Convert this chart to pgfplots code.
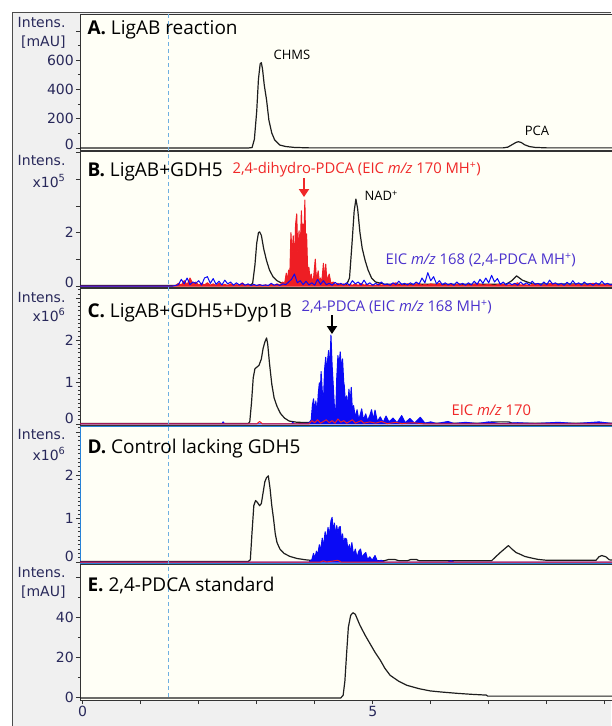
\documentclass[border=0pt]{standalone}
\usepackage{fontspec}
\setmainfont{Open Sans}
\newfontfamily\tickfont{DejaVu Sans}
\usepackage{pgfplots}
\pgfplotsset{compat=1.18}
\usetikzlibrary{arrows.meta}

\definecolor{cream}{RGB}{255,255,246}
\definecolor{margin}{RGB}{240,240,240}
\definecolor{ticktxt}{RGB}{40,40,90}
\definecolor{eicred}{RGB}{238,30,36}
\definecolor{eicblue}{RGB}{10,10,245}
\definecolor{annred}{RGB}{240,40,40}
\definecolor{annblue}{RGB}{75,50,205}
\definecolor{dashcol}{RGB}{110,175,225}
\definecolor{dframe}{RGB}{40,130,215}
\definecolor{trace}{RGB}{30,30,30}

\newcommand\ttl{\fontsize{19}{19}\selectfont}
\newcommand\ann{\fontsize{14.8}{14.8}\selectfont}
\newcommand\lbl{\fontsize{13}{13}\selectfont}
\newcommand\tck{\tickfont\fontsize{14}{14}\selectfont}

\pgfplotsset{
  panel/.style={
    scale only axis, width=534pt, height=136pt,
    xmin=-0.0466, xmax=9.16,
    axis background/.style={fill=cream},
    axis line style={draw=black!80, line width=0.8pt},
    xtick=\empty,
    ytick pos=left, tick align=outside,
    major tick length=4pt, minor tick length=2pt,
    tick style={black!80, line width=0.6pt},
    yticklabel style={font=\tck, text=ticktxt, inner sep=2pt},
    every axis plot/.append style={line join=round, mark=none},
  },
  blk/.style={trace, line width=1.2pt},
  red/.style={eicred, line width=1pt},
  blu/.style={eicblue, line width=1pt},
  redf/.style={eicred, fill=eicred, line width=1pt},
  bluf/.style={eicblue, fill=eicblue, line width=1pt},
}

\begin{document}
\begin{tikzpicture}
\useasboundingbox (0,0) rectangle (611pt,-726pt);
\fill[white] (0,0) rectangle (611pt,-726pt);
\fill[margin] (12pt,-12pt) rectangle (611pt,-726pt);
\draw[black!70, line width=1pt] (12pt,-726pt) -- (12pt,-12pt) -- (611pt,-12pt);

% ---------------- A. LigAB reaction (UV, mAU)
\begin{axis}[panel, at={(80pt,-14pt)}, anchor=north west,
  height=136pt, ymin=-13.65, ymax=914.7,
  ytick={200,400,600,800}, yticklabels={200,400,600,},
  minor ytick={100,300,500,700},
  extra y ticks={0}, extra y tick labels={0},
  extra y tick style={yticklabel style={yshift=4pt}}]
  \addplot[blk] coordinates {
    (-0.05,0) (2.85,0) (2.92,3) (2.96,60) (3.00,250) (3.03,470) (3.06,575)
    (3.08,582) (3.10,540) (3.13,430) (3.17,328) (3.21,190) (3.26,102)
    (3.31,55) (3.40,20) (3.50,10) (3.65,4) (3.90,1) (7.25,1) (7.33,6)
    (7.40,22) (7.47,38) (7.51,43) (7.56,38) (7.62,22) (7.70,10) (7.80,4)
    (8.00,1) (9.20,1)
  };
\end{axis}

% ---------------- B. LigAB+GDH5 (x10^5)
\begin{axis}[panel, at={(80pt,-151pt)}, anchor=north west,
  height=136pt, ymin=-0.037, ymax=5.06,
  ytick={1,2,3,4,5}, yticklabels={,2,,,},
  extra y ticks={0}, extra y tick labels={0},
  extra y tick style={yticklabel style={yshift=4pt}}]
  \addplot[blk] coordinates {
    (-0.05,0.02) (2.88,0.02) (2.93,0.1) (2.97,0.8) (3.00,1.6) (3.03,2.0)
    (3.05,2.03) (3.08,1.9) (3.12,1.4) (3.17,0.95) (3.22,0.6) (3.28,0.35)
    (3.35,0.2) (3.42,0.12) (3.55,0.06) (4.55,0.05) (4.60,0.3) (4.64,1.5)
    (4.68,2.8) (4.71,3.26) (4.74,2.9) (4.78,2.0) (4.82,1.4) (4.87,0.95)
    (4.92,0.6) (4.98,0.3) (5.05,0.15) (5.20,0.07) (7.30,0.07) (7.40,0.2)
    (7.48,0.38) (7.58,0.22) (7.75,0.08) (9.20,0.07)
  };
  \addplot[redf] coordinates {
    (-0.05,0) (1.55,0) (1.60,0.02) (1.65,0.1) (1.70,0.04) (1.75,0.2)
    (1.80,0.05) (1.85,0.3) (1.90,0.08) (1.95,0.15) (2.00,0.03) (2.05,0.1)
    (2.10,0.04) (2.15,0.12) (2.20,0.03) (2.25,0.08) (2.30,0.02) (2.35,0.1)
    (2.40,0.03) (2.45,0.06) (2.50,0.02) (2.55,0.08) (2.60,0.02) (2.65,0.05)
    (2.70,0.02) (2.75,0.12) (2.80,0.03) (2.85,0.06) (2.90,0.02) (2.95,0.04)
    (3.00,0.02) (3.05,0.05) (3.10,0.02) (3.15,0.04) (3.20,0.02) (3.25,0.06)
    (3.30,0.03) (3.35,0.08) (3.40,0.04) (3.45,0.15) (3.48,0.08) (3.51,0.48)
    (3.53,0.2) (3.55,0.6) (3.57,0.35) (3.59,2.0) (3.61,1.2) (3.63,1.88)
    (3.65,0.9) (3.67,2.3) (3.69,2.7) (3.71,1.1) (3.73,2.07) (3.75,1.3)
    (3.77,2.82) (3.79,1.5) (3.80,2.32) (3.81,1.2) (3.83,3.22) (3.85,1.0)
    (3.86,1.95) (3.88,0.5) (3.90,0.7) (3.92,0.2) (3.94,0.45) (3.96,0.15)
    (3.98,0.3) (4.01,1.01) (4.03,0.2) (4.06,0.57) (4.08,0.15) (4.10,0.3)
    (4.12,0.1) (4.15,0.85) (4.17,0.25) (4.19,0.82) (4.21,0.2) (4.25,0.45)
    (4.28,0.1) (4.32,0.15) (4.35,0.04) (4.40,0.1) (4.45,0.03) (4.50,0.08)
    (4.55,0.02) (4.60,0.06) (4.65,0.03) (4.70,0.08) (4.75,0.02) (4.80,0.1)
    (4.85,0.03) (4.90,0.06) (4.95,0.02) (5.00,0.05) (5.05,0.02) (5.10,0.08)
    (5.15,0.03) (5.20,0.06) (5.25,0.02) (5.30,0.05) (5.40,0.12) (5.45,0.03)
    (5.50,0.06) (5.55,0.02) (5.60,0.08) (5.65,0.03) (5.70,0.05) (5.80,0.1)
    (5.85,0.02) (5.90,0.06) (5.95,0.03) (6.00,0.08) (6.10,0.04) (6.15,0.1)
    (6.20,0.02) (6.30,0.06) (6.40,0.03) (6.50,0.08) (6.55,0.02) (6.60,0.05)
    (6.70,0.03) (6.80,0.1) (6.90,0.03) (7.00,0.06) (7.10,0.02) (7.20,0.08)
    (7.30,0.03) (7.40,0.05) (7.50,0.12) (7.55,0.03) (7.60,0.06) (7.70,0.02)
    (7.80,0.08) (7.90,0.03) (8.00,0.05) (8.10,0.1) (8.20,0.03) (8.30,0.06)
    (8.40,0.02) (8.50,0.08) (8.60,0.03) (8.70,0.05) (8.80,0.1) (8.90,0.03)
    (9.00,0.06) (9.10,0.02) (9.15,0.04)
  } \closedcycle;
  \addplot[blu] coordinates {
    (-0.05,0) (1.55,0) (1.60,0.02) (1.65,0.05) (1.70,0.25) (1.75,0.08)
    (1.80,0.3) (1.85,0.05) (1.90,0.15) (1.95,0.1) (2.00,0.2) (2.05,0.04)
    (2.10,0.3) (2.15,0.35) (2.20,0.1) (2.25,0.28) (2.30,0.06) (2.35,0.18)
    (2.40,0.04) (2.45,0.22) (2.50,0.08) (2.55,0.15) (2.60,0.03) (2.65,0.12)
    (2.70,0.04) (2.75,0.1) (2.80,0.03) (2.85,0.08) (2.90,0.02) (2.95,0.06)
    (3.00,0.02) (3.05,0.05) (3.10,0.02) (3.15,0.04) (3.20,0.02) (3.25,0.1)
    (3.30,0.03) (3.35,0.06) (3.40,0.02) (3.45,0.08) (3.50,0.05) (3.55,0.15)
    (3.60,0.25) (3.65,0.45) (3.70,0.12) (3.75,0.2) (3.80,0.05) (3.85,0.18)
    (3.90,0.04) (3.95,0.12) (4.00,0.03) (4.05,0.25) (4.10,0.06) (4.15,0.2)
    (4.20,0.05) (4.25,0.1) (4.30,0.03) (4.35,0.14) (4.40,0.05) (4.45,0.1)
    (4.50,0.04) (4.55,0.12) (4.60,0.03) (4.65,0.2) (4.70,0.08) (4.75,0.15)
    (4.80,0.04) (4.85,0.22) (4.90,0.05) (4.95,0.12) (5.00,0.03) (5.05,0.1)
    (5.10,0.04) (5.15,0.15) (5.20,0.05) (5.25,0.08) (5.30,0.03) (5.35,0.12)
    (5.40,0.05) (5.45,0.18) (5.50,0.06) (5.55,0.1) (5.60,0.04) (5.65,0.12)
    (5.70,0.05) (5.75,0.15) (5.80,0.07) (5.85,0.3) (5.90,0.12) (5.95,0.5)
    (6.00,0.2) (6.05,0.35) (6.10,0.08) (6.15,0.2) (6.20,0.05) (6.25,0.12)
    (6.30,0.04) (6.35,0.1) (6.40,0.03) (6.45,0.15) (6.50,0.05) (6.55,0.1)
    (6.60,0.03) (6.65,0.12) (6.70,0.04) (6.75,0.18) (6.80,0.06) (6.85,0.25)
    (6.90,0.1) (6.95,0.3) (7.00,0.12) (7.05,0.4) (7.10,0.15) (7.15,0.28)
    (7.20,0.06) (7.25,0.15) (7.30,0.04) (7.35,0.12) (7.40,0.05) (7.45,0.1)
    (7.50,0.03) (7.55,0.15) (7.60,0.05) (7.65,0.12) (7.70,0.04) (7.75,0.18)
    (7.80,0.06) (7.85,0.1) (7.90,0.03) (7.95,0.15) (8.00,0.05) (8.05,0.22)
    (8.10,0.07) (8.15,0.12) (8.20,0.04) (8.25,0.1) (8.30,0.03) (8.35,0.14)
    (8.40,0.05) (8.45,0.2) (8.50,0.06) (8.55,0.12) (8.60,0.04) (8.65,0.15)
    (8.70,0.05) (8.75,0.1) (8.80,0.03) (8.85,0.12) (8.90,0.05) (8.95,0.18)
    (9.00,0.06) (9.05,0.1) (9.10,0.04) (9.15,0.08)
  };
\end{axis}

% ---------------- C. LigAB+GDH5+Dyp1B (x10^6)
\begin{axis}[panel, at={(80pt,-288pt)}, anchor=north west,
  height=137pt, ymin=-0.024, ymax=3.24,
  ytick={1,2,3}, yticklabels={1,2,},
  minor ytick={0,0.1,...,3.2},
  extra y ticks={0}, extra y tick labels={0},
  extra y tick style={yticklabel style={yshift=6pt}}]
  \addplot[blk] coordinates {
    (-0.05,0.01) (2.85,0.01) (2.88,0.05) (2.91,0.5) (2.94,1.1) (2.97,1.32)
    (3.00,1.35) (3.04,1.4) (3.08,1.55) (3.11,1.8) (3.14,1.95) (3.17,2.05)
    (3.19,1.9) (3.22,1.45) (3.26,0.95) (3.30,0.62) (3.35,0.42) (3.41,0.25)
    (3.48,0.14) (3.56,0.07) (3.70,0.04) (5.00,0.02) (7.00,0.02) (7.05,0.05)
    (7.35,0.05) (7.40,0.02) (9.20,0.02)
  };
  \addplot[bluf] coordinates {
    (-0.05,0) (2.40,0) (2.42,0.05) (2.45,0) (3.60,0) (3.62,0.04) (3.65,0)
    (3.90,0.02) (3.94,0.1) (3.96,0.45) (3.98,0.6) (4.00,0.3) (4.02,0.55)
    (4.04,0.2) (4.06,0.7) (4.08,0.98) (4.09,0.5) (4.11,1.25) (4.13,0.8)
    (4.15,0.52) (4.17,1.3) (4.19,1.59) (4.21,1.0) (4.22,1.5) (4.24,1.75)
    (4.26,1.3) (4.28,2.12) (4.30,1.4) (4.32,0.91) (4.34,0.4) (4.36,0.12)
    (4.38,1.1) (4.40,1.63) (4.42,1.4) (4.44,1.72) (4.46,1.3) (4.48,1.55)
    (4.50,1.0) (4.51,0.91) (4.53,0.5) (4.55,0.67) (4.57,0.4) (4.59,0.83)
    (4.61,0.5) (4.63,0.87) (4.65,0.3) (4.67,0.44) (4.70,0.15) (4.73,0.34)
    (4.76,0.1) (4.79,0.25) (4.81,0.36) (4.84,0.1) (4.88,0.24) (4.91,0.08)
    (4.95,0.2) (4.98,0.34) (5.01,0.1) (5.04,0.33) (5.08,0.06) (5.13,0.17)
    (5.18,0.04) (5.23,0.19) (5.28,0.05) (5.35,0.14) (5.42,0.03) (5.50,0.2)
    (5.56,0.03) (5.64,0.13) (5.72,0.02) (5.82,0.16) (5.90,0.02) (6.00,0.05)
    (6.10,0.01) (6.30,0.06) (6.40,0.01) (6.60,0.04) (6.80,0.01) (7.00,0.05)
    (7.20,0.01) (7.50,0.03) (7.80,0.01) (8.20,0.04) (8.50,0.01) (8.90,0.05)
    (9.20,0)
  } \closedcycle;
  \addplot[red] coordinates {
    (-0.05,0) (3.00,0) (3.05,0.06) (3.10,0) (3.90,0) (3.95,0.08) (4.00,0.03)
    (4.05,0.1) (4.10,0.02) (4.15,0.06) (4.20,0.1) (4.25,0.03) (4.30,0.08)
    (4.35,0.02) (4.40,0.12) (4.45,0.04) (4.50,0.08) (4.55,0.02) (4.60,0.06)
    (4.65,0.1) (4.70,0.02) (4.75,0.05) (4.80,0.08) (4.85,0.02) (4.95,0.05)
    (5.05,0.02) (5.15,0.06) (5.25,0.01) (5.40,0.04) (5.50,0.01) (5.70,0.03)
    (5.90,0) (9.20,0)
  };
\end{axis}

% ---------------- D. Control lacking GDH5 (x10^6)
\begin{axis}[panel, at={(80pt,-426pt)}, anchor=north west,
  height=137pt, ymin=-0.023, ymax=3.14,
  axis line style={draw=dframe, line width=0.9pt},
  ytick={1,2,3}, yticklabels={1,2,},
  minor ytick={0,0.1,...,3.1},
  extra y ticks={0}, extra y tick labels={0},
  extra y tick style={yticklabel style={yshift=6pt}}]
  \addplot[blk] coordinates {
    (-0.05,0.01) (2.85,0.01) (2.89,0.05) (2.92,0.7) (2.95,1.3) (2.98,1.42)
    (3.01,1.38) (3.05,1.3) (3.08,1.35) (3.11,1.6) (3.14,1.85) (3.17,1.95)
    (3.20,1.99) (3.23,1.7) (3.26,1.3) (3.29,1.0) (3.32,0.65) (3.35,0.45)
    (3.40,0.3) (3.47,0.2) (3.57,0.13) (3.70,0.08) (3.85,0.05) (4.00,0.03)
    (5.20,0.03) (5.28,0.06) (5.38,0.06) (5.45,0.03) (5.60,0.03) (5.66,0.06)
    (5.75,0.06) (5.80,0.03) (7.05,0.03) (7.12,0.12) (7.20,0.22) (7.27,0.3)
    (7.34,0.38) (7.40,0.3) (7.47,0.22) (7.54,0.18) (7.62,0.13) (7.71,0.1)
    (7.85,0.06) (8.00,0.04) (8.85,0.04) (8.90,0.12) (8.95,0.15) (9.02,0.12)
    (9.08,0.05) (9.20,0.04)
  };
  \addplot[bluf] coordinates {
    (-0.05,0) (3.90,0) (3.95,0.05) (3.98,0.2) (4.00,0.08) (4.03,0.25)
    (4.05,0.15) (4.08,0.4) (4.10,0.25) (4.13,0.55) (4.15,0.35) (4.18,0.7)
    (4.20,0.5) (4.23,0.8) (4.25,0.6) (4.28,0.95) (4.30,1.03) (4.32,0.7)
    (4.34,0.9) (4.36,0.6) (4.38,0.84) (4.40,0.65) (4.42,0.8) (4.44,0.82)
    (4.46,0.5) (4.48,0.65) (4.50,0.4) (4.52,0.55) (4.55,0.53) (4.57,0.3)
    (4.60,0.4) (4.62,0.2) (4.64,0.45) (4.67,0.15) (4.70,0.3) (4.73,0.1)
    (4.76,0.25) (4.79,0.3) (4.82,0.1) (4.85,0.18) (4.88,0.22) (4.91,0.06)
    (4.95,0.12) (4.99,0.04) (5.04,0.15) (5.08,0.02) (5.15,0.04) (5.20,0)
    (6.30,0) (6.35,0.03) (6.40,0) (9.20,0)
  } \closedcycle;
  \addplot[red] coordinates {
    (-0.05,0) (4.10,0) (4.15,0.03) (4.20,0) (4.40,0.04) (4.45,0) (9.20,0)
  };
\end{axis}

% ---------------- E. 2,4-PDCA standard (UV, mAU)
\begin{axis}[panel, at={(80pt,-564pt)}, anchor=north west,
  height=136pt, ymin=-1.35, ymax=66.65,
  ytick={20,40,60}, yticklabels={20,40,},
  minor ytick={10,30,50},
  extra y ticks={0}, extra y tick labels={0},
  xtick={0,...,9}, xticklabels={0,,,,,5,,,,}, xtick pos=bottom,
  xticklabel style={font=\tck, text=ticktxt, inner sep=2pt}]
  \addplot[blk] coordinates {
    (-0.05,-0.3) (4.45,-0.3) (4.49,1) (4.52,8) (4.55,22) (4.58,35)
    (4.62,41) (4.66,42.3) (4.70,41.5) (4.78,36) (4.87,31) (4.95,27)
    (5.04,22.5) (5.13,18.6) (5.21,14.5) (5.30,11) (5.45,8) (5.59,6)
    (5.80,4.3) (5.99,3.2) (6.20,2.6) (6.45,2) (6.70,1.5) (6.96,1.1)
    (6.98,0.6) (9.20,0.6)
  };
\end{axis}

% retention-time marker
\draw[dashcol, line width=0.8pt, dash pattern=on 4pt off 3pt]
  (168.3pt,-14pt) -- (168.3pt,-699pt);

% y-axis captions
\begin{scope}[font=\tck, text=ticktxt]
  \node[anchor=east] at (69pt,-22pt) {Intens.};
  \node[anchor=east] at (69pt,-42pt) {[mAU]};
  \node[anchor=east] at (69pt,-160pt) {Intens.};
  \node[anchor=east] at (69pt,-181pt) {x10\textsuperscript{5}};
  \node[anchor=east] at (69pt,-297pt) {Intens.};
  \node[anchor=east] at (69pt,-315pt) {x10\textsuperscript{6}};
  \node[anchor=east] at (69pt,-434pt) {Intens.};
  \node[anchor=east] at (69pt,-454pt) {x10\textsuperscript{6}};
  \node[anchor=east] at (69pt,-572pt) {Intens.};
  \node[anchor=east] at (69pt,-592pt) {[mAU]};
\end{scope}

% panel titles
\node[anchor=west, font=\ttl] at (84pt,-30pt) {\textbf{A.} LigAB reaction};
\node[anchor=west, font=\ttl] at (84pt,-172pt) {\textbf{B.} LigAB+GDH5};
\node[anchor=west, font=\ttl] at (84pt,-313pt) {\textbf{C.} LigAB+GDH5+Dyp1B};
\node[anchor=west, font=\ttl] at (84pt,-449pt) {\textbf{D.} Control lacking GDH5};
\node[anchor=west, font=\ttl] at (84pt,-585pt) {\textbf{E.} 2,4-PDCA standard};

% peak annotations
\node[font=\lbl] at (292pt,-55pt) {CHMS};
\node[font=\lbl] at (537pt,-131pt) {PCA};
\node[anchor=west, font=\ann, text=annred] at (229pt,-170pt)
  {2,4-dihydro-PDCA (EIC \textit{m/z} 170 MH\textsuperscript{+})};
\draw[annred, line width=2pt, -{Triangle[width=10pt,length=8pt]}]
  (304pt,-178pt) -- (304pt,-197pt);
\node[anchor=west, font=\lbl] at (361pt,-196pt) {NAD\textsuperscript{+}};
\node[anchor=west, font=\ann, text=annblue] at (382pt,-260pt)
  {EIC \textit{m/z} 168 (2,4-PDCA MH\textsuperscript{+})};
\node[anchor=west, font=\ann, text=annblue] at (298pt,-307pt)
  {2,4-PDCA (EIC \textit{m/z} 168 MH\textsuperscript{+})};
\draw[black, line width=2pt, -{Triangle[width=10pt,length=8pt]}]
  (332pt,-315pt) -- (332pt,-334pt);
\node[anchor=west, font=\ann, text=annred] at (448pt,-410pt)
  {EIC \textit{m/z} 170};
\end{tikzpicture}
\end{document}
